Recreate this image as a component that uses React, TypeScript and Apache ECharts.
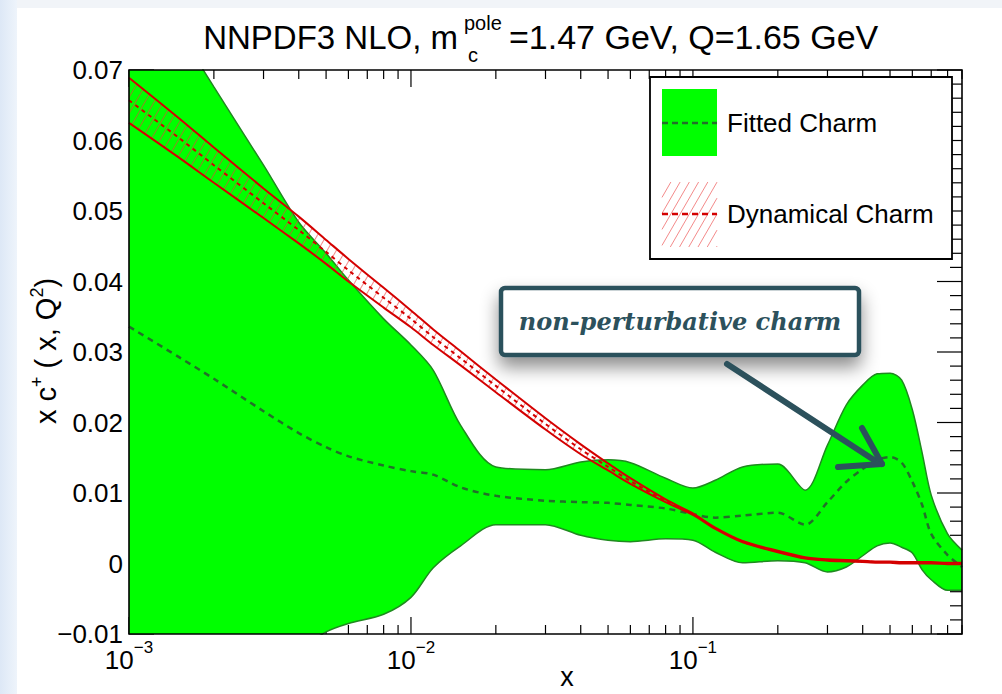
import React, { useEffect, useRef } from 'react';
import * as echarts from 'echarts';

// ---------- data ----------
const xGrid = [0.001, 0.0015, 0.002, 0.003, 0.004, 0.005, 0.006, 0.008, 0.01, 0.012, 0.015, 0.02, 0.03, 0.04, 0.05, 0.06, 0.08, 0.1, 0.12, 0.15, 0.2, 0.25, 0.3, 0.35, 0.4, 0.45, 0.5, 0.55, 0.6, 0.65, 0.7, 0.8, 0.9];

const fitUpper = [0.088, 0.0757, 0.0676, 0.0565, 0.0484, 0.044, 0.0402, 0.0347, 0.031, 0.0274, 0.0196, 0.0137, 0.0133, 0.0144, 0.0147, 0.0143, 0.0121, 0.0107, 0.0118, 0.0137, 0.0141, 0.0104, 0.0168, 0.0225, 0.0253, 0.0269, 0.027, 0.026, 0.0218, 0.0157, 0.0097, 0.0042, 0.0019];
const fitLower = [-0.03, -0.028, -0.026, -0.02, -0.0125, -0.0097, -0.0085, -0.0072, -0.0048, -0.0006, 0.0025, 0.0055, 0.0055, 0.004, 0.0033, 0.0031, 0.0035, 0.0033, 0.0016, 0.0001, 0.0004, 0.0001, -0.0012, -0.0005, 0.0011, 0.0025, 0.0029, 0.0023, 0.0015, -0.0009, -0.0023, -0.0038, -0.0038];
const fitCentral = [0.0336, 0.0293, 0.0262, 0.0216, 0.0185, 0.0165, 0.0152, 0.0139, 0.0131, 0.0126, 0.0108, 0.0096, 0.0089, 0.0087, 0.0086, 0.0083, 0.0078, 0.007, 0.0065, 0.0068, 0.0072, 0.0055, 0.0087, 0.0116, 0.0134, 0.0147, 0.0151, 0.0143, 0.0116, 0.0083, 0.0042, 0.0012, -0.0005];

const dynCentral = [0.0657, 0.0604, 0.0565, 0.0511, 0.0473, 0.0442, 0.0416, 0.0377, 0.0347, 0.0321, 0.0291, 0.0252, 0.0198, 0.0162, 0.0137, 0.0117, 0.0089, 0.007, 0.005, 0.0031, 0.0017, 0.0008, 0.0005, 0.0004, 0.0003, 0.0002, 0.0002, 0.0001, 0.0001, 0.0001, 0.0001, 0.0, 0.0];
const dynUpper = [0.0689, 0.0632, 0.059, 0.0532, 0.0492, 0.0459, 0.0432, 0.0391, 0.0359, 0.0332, 0.0301, 0.0261, 0.0206, 0.0169, 0.0142, 0.0121, 0.0091, 0.0071, 0.0051, 0.0032, 0.0018, 0.0009, 0.0006, 0.0005, 0.0004, 0.0003, 0.0003, 0.0002, 0.0002, 0.0002, 0.0002, 0.0001, 0.0001];
const dynLower = [0.0625, 0.0576, 0.054, 0.049, 0.0454, 0.0425, 0.04, 0.0363, 0.0335, 0.031, 0.0281, 0.0243, 0.019, 0.0155, 0.0132, 0.0113, 0.0087, 0.0069, 0.0049, 0.003, 0.0016, 0.0007, 0.0004, 0.0003, 0.0002, 0.0001, 0.0001, 0.0, 0.0, 0.0, 0.0, -0.0001, -0.0001];

const xMajorTicks = [0.001, 0.01, 0.1];
const xMinorTicks = [0.002, 0.003, 0.004, 0.005, 0.006, 0.007, 0.008, 0.009, 0.02, 0.03, 0.04, 0.05, 0.06, 0.07, 0.08, 0.09, 0.2, 0.3, 0.4, 0.5, 0.6, 0.7, 0.8, 0.9];
const yMajorTicks = [-0.01, 0, 0.01, 0.02, 0.03, 0.04, 0.05, 0.06, 0.07];
const yMinorTicks = [-0.008, -0.006, -0.004, -0.002, 0.002, 0.004, 0.006, 0.008, 0.012, 0.014, 0.016, 0.018, 0.022, 0.024, 0.026, 0.028, 0.032, 0.034, 0.036, 0.038, 0.042, 0.044, 0.046, 0.048, 0.052, 0.054, 0.056, 0.058, 0.062, 0.064, 0.066, 0.068];
const yTickLabels = ['\u22120.01', '0', '0.01', '0.02', '0.03', '0.04', '0.05', '0.06', '0.07'];

const titleMain = 'NNPDF3 NLO, m';
const titleSup = 'pole';
const titleSub = 'c';
const titleRest = '=1.47 GeV, Q=1.65 GeV';
const legendLabels = ['Fitted Charm', 'Dynamical Charm'];
const noteText = 'non-perturbative charm';

// ---------- styles ----------
const FONT = '"Liberation Sans", Arial, Helvetica, sans-serif';
const GREEN = '#00ff00';
const GREEN_EDGE = '#1f8a1f';
const GREEN_DASH = '#23702a';
const RED = '#d40000';
const HATCH = 'rgba(235,60,60,0.6)';
const NOTE = '#2c515c';

function hatchSegments(x0: number, y0: number, w: number, h: number, spacing: number, angleDeg: number) {
  const a = (angleDeg * Math.PI) / 180;
  const d = [Math.cos(a), -Math.sin(a)];
  const n = [Math.sin(a), Math.cos(a)];
  const corners = [[x0, y0], [x0 + w, y0], [x0, y0 + h], [x0 + w, y0 + h]];
  const cs = corners.map((c) => c[0] * n[0] + c[1] * n[1]);
  const cmin = Math.min(...cs);
  const cmax = Math.max(...cs);
  const segs: number[][] = [];
  for (let c = Math.ceil(cmin / spacing) * spacing; c <= cmax; c += spacing) {
    const p0 = [n[0] * c, n[1] * c];
    let t0 = -1e9;
    let t1 = 1e9;
    const clip = (p: number, q: number) => {
      if (Math.abs(p) < 1e-12) return q >= 0;
      const r = q / p;
      if (p < 0) {
        if (r > t1) return false;
        if (r > t0) t0 = r;
      } else {
        if (r < t0) return false;
        if (r < t1) t1 = r;
      }
      return true;
    };
    if (
      clip(-d[0], p0[0] - x0) &&
      clip(d[0], x0 + w - p0[0]) &&
      clip(-d[1], p0[1] - y0) &&
      clip(d[1], y0 + h - p0[1]) &&
      t1 > t0
    ) {
      segs.push([p0[0] + d[0] * t0, p0[1] + d[1] * t0, p0[0] + d[0] * t1, p0[1] + d[1] * t1]);
    }
  }
  return segs;
}

const decal = {
  symbol: 'rect',
  symbolSize: 1,
  color: HATCH,
  dashArrayX: [1, 0],
  dashArrayY: [1, 7],
  rotation: -Math.PI / 3,
};

function buildOption() {
  const pts = (ys: number[]) => xGrid.map((x, i) => [x, ys[i]]);
  // y first so that the stack is computed on the y dimension
  const ptsYX = (ys: number[]) => xGrid.map((x, i) => [ys[i], x]);
  const diffYX = (a: number[], b: number[]) => xGrid.map((x, i) => [a[i] - b[i], x]);

  const tickData: number[][] = [
    ...xMajorTicks.map((v) => [v, 0, 0]),
    ...xMinorTicks.map((v) => [v, 0, 1]),
    ...yMajorTicks.map((v) => [0.01, v, 2]),
    ...yMinorTicks.map((v) => [0.01, v, 3]),
  ];

  const SM = 0.3;

  const hatch = hatchSegments(662, 182, 55, 65, 8, 60);

  const Z = 100;
  const elements: any[] = [
    { type: 'rect', z: Z, shape: { x: 0, y: 0, width: 1002, height: 8 }, style: { fill: '#f1f4f8' }, silent: true },
    {
      type: 'rect', z: Z, shape: { x: 0, y: 0, width: 17, height: 694 }, silent: true,
      style: { fill: new echarts.graphic.LinearGradient(0, 0, 1, 0, [{ offset: 0, color: '#dde8f6' }, { offset: 1, color: '#eef4fb' }]) },
    },
    // title
    { type: 'text', z: Z, x: 458, y: 37, style: { text: titleMain, font: `33px ${FONT}`, fill: '#000', align: 'right', verticalAlign: 'middle' } },
    { type: 'text', z: Z, x: 464, y: 23, style: { text: titleSup, font: `20px ${FONT}`, fill: '#000', align: 'left', verticalAlign: 'middle' } },
    { type: 'text', z: Z, x: 468, y: 55, style: { text: titleSub, font: `20px ${FONT}`, fill: '#000', align: 'left', verticalAlign: 'middle' } },
    { type: 'text', z: Z, x: 509, y: 37, style: { text: titleRest, font: `34px ${FONT}`, fill: '#000', align: 'left', verticalAlign: 'middle' } },
    // y axis title
    {
      type: 'text', z: Z, x: 46, y: 351, rotation: Math.PI / 2,
      style: {
        text: 'x c{s|+} ( x, Q{s|2})', font: `29px ${FONT}`, fill: '#000', align: 'center', verticalAlign: 'middle', lineHeight: 36,
        rich: { s: { fontSize: 18, fontFamily: FONT, lineHeight: 18, verticalAlign: 'top', fill: '#000' } },
      },
    },
    // x axis title
    { type: 'text', z: Z, x: 567, y: 677, style: { text: 'x', font: `27px ${FONT}`, fill: '#000', align: 'center', verticalAlign: 'middle' } },
    // legend
    { type: 'rect', z: Z, shape: { x: 650, y: 77, width: 302, height: 182 }, style: { fill: '#fff', stroke: '#000', lineWidth: 1.8 } },
    { type: 'rect', z: Z + 1, shape: { x: 662, y: 89, width: 55, height: 67 }, style: { fill: GREEN } },
    { type: 'line', z: Z + 2, shape: { x1: 662, y1: 123, x2: 717, y2: 123 }, style: { stroke: GREEN_DASH, lineWidth: 2.5, lineDash: [6, 4] } },
    ...hatch.map((s) => ({ type: 'line', z: Z + 1, shape: { x1: s[0], y1: s[1], x2: s[2], y2: s[3] }, style: { stroke: HATCH, lineWidth: 1 } })),
    { type: 'line', z: Z + 2, shape: { x1: 662, y1: 214, x2: 717, y2: 214 }, style: { stroke: RED, lineWidth: 2.5, lineDash: [6, 4] } },
    { type: 'text', z: Z + 2, x: 727, y: 123, style: { text: legendLabels[0], font: `26px ${FONT}`, fill: '#000', align: 'left', verticalAlign: 'middle' } },
    { type: 'text', z: Z + 2, x: 727, y: 214, style: { text: legendLabels[1], font: `26px ${FONT}`, fill: '#000', align: 'left', verticalAlign: 'middle' } },
    // annotation
    {
      type: 'rect', z: Z + 3, shape: { x: 501, y: 288, width: 358, height: 67, r: 4 },
      style: { fill: '#fff', stroke: NOTE, lineWidth: 4.5, shadowBlur: 18, shadowOffsetY: 10, shadowColor: 'rgba(0,0,0,0.45)' },
    },
    { type: 'text', z: Z + 4, x: 680, y: 321, style: { text: noteText, font: `italic bold 24px "DejaVu Serif", serif`, fill: NOTE, align: 'center', verticalAlign: 'middle' } },
    { type: 'line', z: Z + 4, shape: { x1: 727, y1: 364, x2: 874, y2: 460 }, style: { stroke: NOTE, lineWidth: 6, lineCap: 'round' } },
    { type: 'line', z: Z + 4, shape: { x1: 862, y1: 428, x2: 882, y2: 464 }, style: { stroke: NOTE, lineWidth: 6, lineCap: 'round' } },
    { type: 'line', z: Z + 4, shape: { x1: 838, y1: 467, x2: 882, y2: 464 }, style: { stroke: NOTE, lineWidth: 6, lineCap: 'round' } },
  ];

  return {
    animation: false,
    backgroundColor: '#ffffff',
    grid: { left: 129, right: 40, top: 70, bottom: 60, containLabel: false, outerBoundsMode: 'none' },
    xAxis: {
      type: 'log', logBase: 10, min: 0.001, max: 0.9,
      axisLine: { show: false }, axisTick: { show: false }, splitLine: { show: false }, minorTick: { show: false },
      axisLabel: {
        margin: 5, showMaxLabel: false, showMinLabel: true,
        formatter: (v: number) => {
          const e = Math.log10(v);
          const r = Math.round(e);
          if (Math.abs(e - r) > 1e-6) return '';
          return `{b|10}{e|\u2212${Math.abs(r)}}`;
        },
        rich: {
          b: { fontSize: 26, fontFamily: FONT, color: '#000', lineHeight: 34, verticalAlign: 'bottom' },
          e: { fontSize: 17, fontFamily: FONT, color: '#000', lineHeight: 17, verticalAlign: 'top' },
        },
      },
    },
    yAxis: {
      type: 'value', min: -0.01, max: 0.07, interval: 0.01,
      axisLine: { show: false }, axisTick: { show: false }, splitLine: { show: false },
      axisLabel: {
        margin: 6, fontSize: 26, fontFamily: FONT, color: '#000',
        formatter: (v: number) => yTickLabels[Math.round((v + 0.01) / 0.01)] ?? '',
      },
    },
    series: [
      {
        type: 'custom', name: 'ticks', z: 1, silent: true, data: tickData,
        renderItem: (params: any, api: any) => {
          const cs = params.coordSys;
          const kind = api.value(2);
          const p = api.coord([api.value(0), api.value(1)]);
          const st = { stroke: '#000', lineWidth: 1.2 };
          if (kind < 2) {
            const len = kind === 0 ? 17 : 9;
            const b = cs.y + cs.height;
            const t = cs.y;
            return {
              type: 'group',
              children: [
                { type: 'line', shape: { x1: p[0], y1: b, x2: p[0], y2: b - len }, style: st },
                { type: 'line', shape: { x1: p[0], y1: t, x2: p[0], y2: t + len }, style: st },
              ],
            };
          }
          const len = kind === 2 ? 25 : 12;
          const l = cs.x;
          const r = cs.x + cs.width;
          return {
            type: 'group',
            children: [
              { type: 'line', shape: { x1: l, y1: p[1], x2: l + len, y2: p[1] }, style: st },
              { type: 'line', shape: { x1: r, y1: p[1], x2: r - len, y2: p[1] }, style: st },
            ],
          };
        },
      },
      // fitted charm band (stacked on y: data given as [y, x])
      {
        type: 'line', name: 'fitLowerBase', data: ptsYX(fitLower), encode: { x: 1, y: 0 }, stack: 'fit', stackStrategy: 'all', smooth: SM, symbol: 'none', z: 2,
        lineStyle: { opacity: 0, width: 0 }, silent: true,
      },
      {
        type: 'line', name: 'Fitted Charm', data: diffYX(fitUpper, fitLower), encode: { x: 1, y: 0 }, stack: 'fit', stackStrategy: 'all', smooth: SM, symbol: 'none', z: 2,
        lineStyle: { opacity: 0, width: 0 }, areaStyle: { color: GREEN, opacity: 1 }, silent: true,
      },
      { type: 'line', name: 'fitUpperEdge', data: pts(fitUpper), smooth: SM, symbol: 'none', z: 2, lineStyle: { color: GREEN_EDGE, width: 1.5 }, silent: true },
      { type: 'line', name: 'fitLowerEdge', data: pts(fitLower), smooth: SM, symbol: 'none', z: 2, lineStyle: { color: GREEN_EDGE, width: 1.5 }, silent: true },
      { type: 'line', name: 'fitCentral', data: pts(fitCentral), smooth: SM, symbol: 'none', z: 2, lineStyle: { color: GREEN_DASH, width: 2.5, type: [6, 5] }, silent: true },
      // dynamical charm band
      {
        type: 'line', name: 'dynLowerBase', data: ptsYX(dynLower), encode: { x: 1, y: 0 }, stack: 'dyn', stackStrategy: 'all', smooth: SM, symbol: 'none', z: 3,
        lineStyle: { opacity: 0, width: 0 }, silent: true,
      },
      {
        type: 'line', name: 'Dynamical Charm', data: diffYX(dynUpper, dynLower), encode: { x: 1, y: 0 }, stack: 'dyn', stackStrategy: 'all', smooth: SM, symbol: 'none', z: 3,
        lineStyle: { opacity: 0, width: 0, decal }, itemStyle: { decal }, areaStyle: { color: 'rgba(255,255,255,0)', opacity: 1 }, silent: true,
      },
      { type: 'line', name: 'dynUpperEdge', data: pts(dynUpper), smooth: SM, symbol: 'none', z: 3, lineStyle: { color: RED, width: 2 }, silent: true },
      { type: 'line', name: 'dynLowerEdge', data: pts(dynLower), smooth: SM, symbol: 'none', z: 3, lineStyle: { color: RED, width: 2 }, silent: true },
      { type: 'line', name: 'dynCentral', data: pts(dynCentral), smooth: SM, symbol: 'none', z: 3, lineStyle: { color: RED, width: 2, type: [4, 4] }, silent: true },
      // frame
      {
        type: 'custom', name: 'frame', z: 6, silent: true, data: [[0.01, 0.03]],
        renderItem: (params: any) => {
          const cs = params.coordSys;
          return { type: 'rect', shape: { x: cs.x, y: cs.y, width: cs.width, height: cs.height }, style: { fill: 'none', stroke: '#000', lineWidth: 1.6 } };
        },
      },
    ],
    graphic: { elements },
  };
}

export default function App() {
  const ref = useRef<HTMLDivElement>(null);
  useEffect(() => {
    if (!ref.current) return;
    const chart = echarts.init(ref.current, undefined, { renderer: 'svg' });
    chart.setOption(buildOption() as any);
    return () => chart.dispose();
  }, []);
  return <div ref={ref} style={{ position: 'fixed', left: 0, top: 0, width: 1002, height: 694, background: '#fff' }} />;
}
